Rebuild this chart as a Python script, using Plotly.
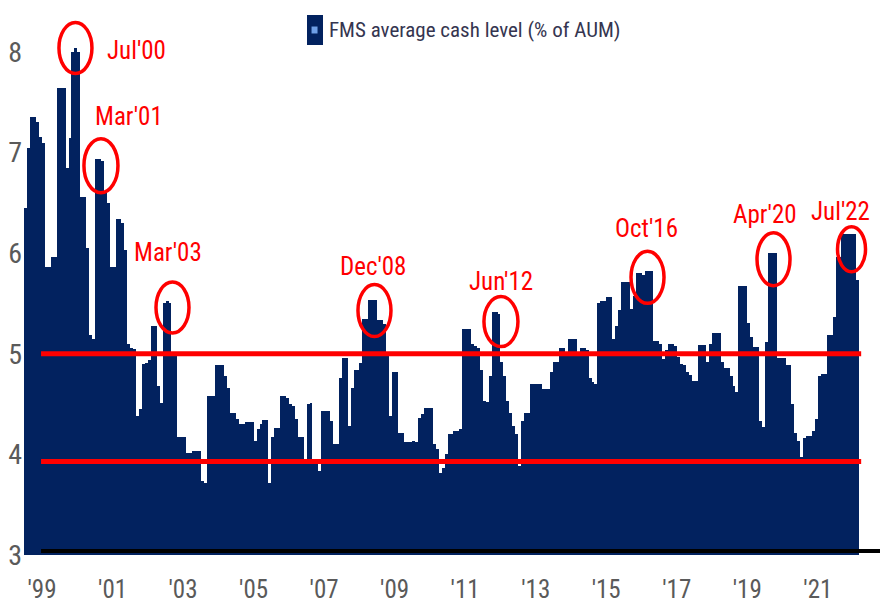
import pandas as pd
import plotly.graph_objects as go

# ---------------- data ----------------
first_month = "1999-01"
cash_level = [
    # 1999
    6.45, 7.05, 7.35, 7.35, 7.30, 7.15, 7.10, 5.86, 5.86, 5.96, 5.96, 7.64,
    # 2000
    7.64, 7.64, 6.85, 7.14, 8.00, 8.04, 8.00, 6.56, 6.56, 6.05, 5.19, 5.15,
    # 2001
    6.94, 6.94, 6.92, 6.60, 6.50, 5.86, 5.86, 6.34, 6.34, 6.30, 6.03, 5.10,
    # 2002
    5.06, 5.05, 4.38, 4.45, 4.90, 4.91, 4.94, 5.28, 5.28, 4.68, 4.51, 5.50,
    # 2003
    5.52, 5.50, 5.02, 5.02, 4.17, 4.17, 4.17, 4.01, 4.01, 4.03, 4.03, 4.03,
    # 2004
    3.74, 3.72, 4.58, 4.58, 4.58, 4.89, 4.89, 4.89, 4.78, 4.66, 4.41, 4.41,
    # 2005
    4.35, 4.30, 4.30, 4.32, 4.32, 4.32, 4.13, 4.25, 4.30, 4.34, 4.34, 3.72,
    # 2006
    4.17, 4.26, 4.26, 4.58, 4.58, 4.56, 4.50, 4.48, 4.35, 4.17, 4.17, 3.92,
    # 2007
    4.50, 4.51, 3.95, 3.95, 3.83, 4.43, 4.43, 4.43, 4.33, 4.10, 4.10, 4.76,
    # 2008
    4.96, 4.96, 4.28, 4.66, 4.84, 4.84, 4.91, 5.35, 5.35, 5.53, 5.53, 5.53,
    # 2009
    5.34, 5.34, 5.30, 5.02, 4.38, 4.82, 4.82, 4.21, 4.21, 4.12, 4.12, 4.12,
    # 2010
    4.13, 4.12, 4.36, 4.40, 4.46, 4.46, 4.46, 4.10, 4.05, 3.82, 3.86, 4.00,
    # 2011
    4.20, 4.20, 4.23, 4.23, 4.25, 5.25, 5.25, 5.25, 5.10, 5.08, 5.06, 4.84,
    # 2012
    4.53, 4.52, 4.78, 5.42, 5.42, 5.40, 4.92, 4.78, 4.53, 4.41, 4.28, 4.20,
    # 2013
    3.88, 4.33, 4.41, 4.41, 4.70, 4.70, 4.70, 4.70, 4.65, 4.65, 4.65, 4.82,
    # 2014
    4.92, 4.92, 5.06, 5.06, 5.00, 5.15, 5.15, 5.15, 5.02, 5.06, 5.06, 5.04,
    # 2015
    4.76, 4.72, 4.70, 5.50, 5.52, 5.52, 5.56, 5.56, 5.15, 5.28, 5.44, 5.71,
    # 2016
    5.71, 5.71, 5.45, 5.57, 5.80, 5.80, 5.78, 5.82, 5.82, 5.82, 5.13, 5.13,
    # 2017
    5.10, 4.95, 5.04, 5.10, 5.10, 5.08, 4.97, 4.90, 4.89, 4.82, 4.79, 4.73,
    # 2018
    4.73, 5.09, 5.09, 5.09, 4.92, 5.10, 5.21, 5.21, 5.21, 4.92, 4.86, 4.86,
    # 2019
    4.78, 4.68, 4.62, 5.67, 5.67, 5.67, 5.31, 5.17, 5.07, 5.07, 4.33, 4.27,
    # 2020
    5.12, 6.00, 6.00, 6.00, 4.96, 4.96, 4.96, 4.89, 4.89, 4.50, 4.21, 4.13,
    # 2021
    3.97, 4.16, 4.18, 4.18, 4.23, 4.35, 4.78, 4.80, 4.80, 5.19, 5.19, 5.37,
    # 2022
    5.96, 5.96, 6.19, 6.19, 6.19, 6.19, 6.19, 5.73,
]

series_name = "FMS average cash level (% of AUM)"

tick_years = [1999, 2001, 2003, 2005, 2007, 2009, 2011, 2013, 2015, 2017, 2019, 2021]
tick_text = ["'99", "'01", "'03", "'05", "'07", "'09", "'11", "'13", "'15", "'17", "'19", "'21"]
y_ticks = [3, 4, 5, 6, 7, 8]

threshold_high = 5.0
threshold_low = 3.93

callout_labels = ["Jul'00", "Mar'01", "Mar'03", "Dec'08", "Jun'12", "Oct'16", "Apr'20", "Jul'22"]
callout_dates = ["2000-06-12", "2001-03-03", "2003-03-14", "2008-12-04",
                 "2012-07-06", "2016-09-01", "2020-03-29", "2022-06-15"]
callout_values = [8.04, 6.87, 5.46, 5.43, 5.32, 5.76, 5.94, 6.04]

# ---------------- styling ----------------
NAVY = "#02225f"
RED = "#ff0000"
GREY = "#5a5a5a"
FONT = "Roboto Condensed, Liberation Sans Narrow, DejaVu Sans Condensed, sans-serif"

# circle sizes (px) and label offsets (px) for each callout
circle_w = [33, 34, 33, 33, 34, 33, 33, 28]
circle_h = [51, 54, 51, 52, 50, 52, 53, 45]
label_dx = [61, 28, -4, -1, 0, -1, -9, -11]
label_dy = [-3, 49, 55, 44, 40, 49, 45, 38]

months = pd.period_range(first_month, periods=len(cash_level), freq="M")
x_start = [p.to_timestamp(how="start").strftime("%Y-%m-%d") for p in months]
widths_ms = [int(p.days_in_month) * 86400000 for p in months]

fig = go.Figure()
fig.add_trace(go.Bar(
    x=x_start, y=cash_level, width=widths_ms, offset=0,
    marker=dict(color=NAVY, line=dict(width=0)),
    name=series_name, showlegend=False,
))

shapes = []
for lvl in (threshold_high, threshold_low):
    shapes.append(dict(type="line", xref="paper", yref="y", x0=0.0199, x1=0.978, y0=lvl, y1=lvl,
                       line=dict(color=RED, width=5)))
# black baseline
shapes.append(dict(type="line", xref="paper", yref="y", x0=0.0199, x1=1.0, y0=3.04, y1=3.04,
                   line=dict(color="black", width=4)))
# callout circles
for d, v, w, h in zip(callout_dates, callout_values, circle_w, circle_h):
    shapes.append(dict(type="circle", xref="x", yref="y", xsizemode="pixel", ysizemode="pixel",
                       xanchor=d, yanchor=v, x0=-w / 2, x1=w / 2, y0=-h / 2, y1=h / 2,
                       line=dict(color=RED, width=3.5)))
# legend marker
shapes.append(dict(type="rect", xref="paper", yref="paper", x0=0.3306, x1=0.3493, y0=0.9358, y1=0.9908,
                   fillcolor=NAVY, line=dict(width=0)))
shapes.append(dict(type="rect", xref="paper", yref="paper", x0=0.3359, x1=0.3429, y0=0.9569, y1=0.9697,
                   fillcolor="#6e9fe6", line=dict(width=0)))

annotations = []
for lab, d, v, dx, dy in zip(callout_labels, callout_dates, callout_values, label_dx, label_dy):
    annotations.append(dict(x=d, y=v, xref="x", yref="y", text=lab, showarrow=False,
                            xshift=dx, yshift=dy, xanchor="center", yanchor="middle",
                            font=dict(family=FONT, size=25, color=RED)))
annotations.append(dict(x=0.354, y=0.963, xref="paper", yref="paper", text=series_name,
                        showarrow=False, xanchor="left", yanchor="middle",
                        font=dict(family=FONT, size=21, color="#353550")))

fig.update_layout(
    width=880, height=608,
    margin=dict(l=24, r=0, t=10, b=53),
    paper_bgcolor="white", plot_bgcolor="white",
    bargap=0, showlegend=False, hovermode=False,
    shapes=shapes, annotations=annotations,
    xaxis=dict(type="date", range=["1998-12-27", "2023-04-06"], automargin=False,
               tickvals=[f"{y}-07-01" for y in tick_years], ticktext=tick_text,
               showgrid=False, zeroline=False, showline=False, ticks="",
               ticklabelstandoff=17,
               tickfont=dict(family=FONT, size=25, color=GREY)),
    yaxis=dict(range=[3, 8.417], automargin=False, tickvals=y_ticks,
               ticktext=[str(t) for t in y_ticks],
               showgrid=False, zeroline=False, showline=False, ticks="",
               ticklabelstandoff=1,
               tickfont=dict(family=FONT, size=28, color=GREY)),
)

fig.write_html(
    "out.html",
    config={"displayModeBar": False},
    post_script="document.body.style.margin='0';document.body.style.padding='0';"
                "document.documentElement.style.overflow='hidden';",
)
